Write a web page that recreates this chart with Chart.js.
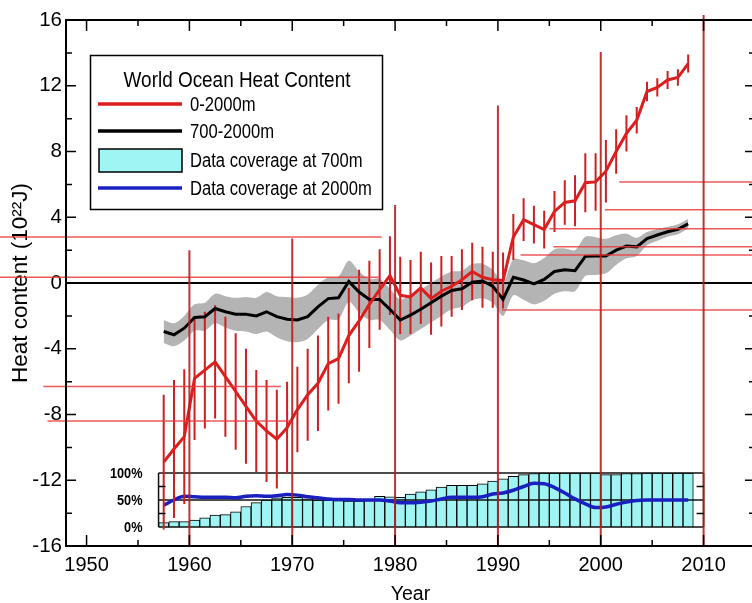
<!DOCTYPE html>
<html lang="en">
<head>
<meta charset="UTF-8" />
<title>World Ocean Heat Content</title>
<script src="https://cdn.jsdelivr.net/npm/chart.js"></script>
<style>
  html, body { margin: 0; padding: 0; background: #fff; overflow: hidden; }
  #wrap { width: 760px; height: 603px; }
</style>
</head>
<body>
<div id="wrap"><canvas id="ohc" width="760" height="603"></canvas></div>
<script>
const FONT = "'Liberation Sans', Arial, sans-serif";

// yearly values, each plotted at mid-year
const years = [1957, 1958, 1959, 1960, 1961, 1962, 1963, 1964, 1965, 1966, 1967, 1968, 1969,
  1970, 1971, 1972, 1973, 1974, 1975, 1976, 1977, 1978, 1979, 1980, 1981, 1982, 1983,
  1984, 1985, 1986, 1987, 1988, 1989, 1990, 1991, 1992, 1993, 1994, 1995, 1996, 1997,
  1998, 1999, 2000, 2001, 2002, 2003, 2004, 2005, 2006, 2007, 2008];

// 0-2000m heat content (10^22 J) and its error bar half-width
const heat0to2000 = [-10.9, -10.1, -9.35, -5.8, -5.3, -4.8, -5.7, -6.6, -7.5, -8.4, -9.0, -9.5, -8.8,
  -7.7, -6.8, -6.1, -4.9, -4.6, -3.2, -2.3, -1.3, -0.4, 0.45, -0.75, -0.85, -0.3, -0.95,
  -0.5, -0.2, 0.2, 0.7, 0.35, 0.2, 0.15, 2.8, 3.85, 3.55, 3.25, 4.35, 4.9, 5.0,
  6.1, 6.15, 6.8, 8.0, 9.1, 9.9, 11.65, 11.9, 12.35, 12.5, 13.35];
const err0to2000 = [4.1, 4.2, 4.1, 3.75, 3.55, 3.45, 3.65, 3.55, 3.5, 3.1, 3.1, 3.0, 2.8,
  2.6, 2.8, 2.9, 2.85, 2.75, 2.9, 3.1, 2.65, 2.45, 2.4, 2.35, 2.25, 2.2, 2.2,
  2.15, 1.85, 1.85, 1.75, 1.85, 1.7, 1.7, 1.4, 1.3, 1.15, 1.15, 1.25, 1.35, 1.55,
  1.8, 1.75, 1.9, 1.35, 1.1, 0.8, 0.6, 0.55, 0.55, 0.5, 0.55];

// 700-2000m heat content and half-width of the grey band
const heat700to2000 = [-2.95, -3.15, -2.75, -2.1, -2.05, -1.55, -1.75, -1.9, -1.9, -2.0, -1.75, -2.05, -2.2,
  -2.25, -2.05, -1.45, -0.95, -0.9, 0.1, -0.55, -1.0, -1.0, -1.6, -2.25, -1.95, -1.6, -1.2,
  -0.8, -0.45, -0.35, 0.05, 0.12, -0.2, -1.0, 0.35, 0.18, -0.05, 0.22, 0.7, 0.8, 0.75,
  1.62, 1.64, 1.64, 2.0, 2.25, 2.2, 2.7, 2.92, 3.12, 3.27, 3.6];
const band700to2000 = [0.7, 0.7, 0.75, 0.8, 0.85, 0.9, 0.95, 1.0, 1.05, 1.1, 1.2, 1.25, 1.35,
  1.35, 1.35, 1.35, 1.3, 1.3, 1.25, 1.25, 1.25, 1.25, 1.25, 1.25, 1.25, 1.2, 1.2,
  1.2, 1.15, 1.1, 1.1, 1.05, 1.0, 1.0, 1.1, 1.2, 1.25, 1.3, 1.35, 1.3, 1.25,
  1.2, 1.15, 1.05, 0.9, 0.75, 0.55, 0.4, 0.35, 0.3, 0.3, 0.3];

// data coverage (%)
const coverage700 = [8, 10, 10, 13, 17, 22, 23, 28, 38, 45, 50, 54, 55,
  55, 52, 50, 50, 49, 48, 48, 49, 57, 56, 55, 61, 65, 69,
  74, 77, 77, 77, 80, 85, 89, 94, 97, 99, 100, 100, 100, 100,
  100, 100, 97, 97, 99, 99, 100, 100, 100, 100, 100];
const coverage2000 = [40, 50, 57, 56, 55, 55, 55, 54, 57, 58, 57, 58, 60,
  59, 56, 54, 52, 51, 51, 50, 50, 50, 48, 45, 45, 46, 48,
  52, 55, 55, 55, 56, 61, 63, 68, 75, 81, 80, 73, 63, 52,
  43, 36, 37, 42, 46, 49, 50, 50, 50, 50, 50];

const xTicks = [1950, 1960, 1970, 1980, 1990, 2000, 2010];
const xMinorTicks = [1955, 1965, 1975, 1985, 1995, 2005];
const yTicks = [-16, -12, -8, -4, 0, 4, 8, 12, 16];
const yMinorTicks = [-14, -10, -6, -2, 2, 6, 10, 14];
const insetTicks = [0, 50, 100];
const insetMinorTicks = [25, 75];
const insetSpan = [1957, 2010];

const legendTitle = 'World Ocean Heat Content';
const legendLabels = ['0-2000m', '700-2000m', 'Data coverage at 700m', 'Data coverage at 2000m'];

// red guide lines drawn over the figure
const guideYears = [1960, 1970, 1980, 1990, 2000, 2010];
const guideTops = [2.0, 2.7, 4.75, 10.8, 14.05, 16.3];
const guideLevels = [2.8, 0.35, -6.3, -8.4, -1.65, 1.7, 2.2, 3.3, 4.45, 6.15];
const guideFrom = [1941, 1941, 1945.8, 1946.2, 1990.4, 1992.2, 1995.4, 1995, 2000.4, 2001.8];
const guideTo = [1978.7, 1978.4, 1968.9, 1970, 2016, 2016, 2016, 2016, 2016, 2016];

const RED = '#dc1e1e';
const BLUE = '#1a20c0';
const CYAN = '#9ff5f3';
const GREY = '#b4b4b4';

const mid = years.map(v => v + 0.5);
const pts = arr => arr.map((v, i) => ({ x: mid[i], y: v }));

const errPts = [];
mid.forEach((x, i) => {
  errPts.push({ x, y: heat0to2000[i] - err0to2000[i] });
  errPts.push({ x, y: heat0to2000[i] + err0to2000[i] });
  errPts.push({ x, y: null });
});
const vGuidePts = [];
guideYears.forEach((x, i) => {
  vGuidePts.push({ x, y: -16 });
  vGuidePts.push({ x, y: guideTops[i] });
  vGuidePts.push({ x, y: null });
});

const line = (data, color, width, extra) => Object.assign({
  type: 'line', data, borderColor: color, borderWidth: width,
  pointRadius: 0, fill: false, tension: 0, spanGaps: false
}, extra || {});

const datasets = [
  { type: 'bar', data: pts(coverage700), yAxisID: 'y2', backgroundColor: CYAN,
    borderColor: '#000', borderWidth: 1, barPercentage: 1, categoryPercentage: 1, grouped: false, order: 12 },
  ...insetTicks.map(v => line([{ x: insetSpan[0], y: v }, { x: insetSpan[1], y: v }], '#111', 1.5, { yAxisID: 'y2', order: 11 })),
  ...insetSpan.map(x => line([{ x, y: 0 }, { x, y: 100 }], '#111', 1.5, { yAxisID: 'y2', order: 11 })),
  line(pts(heat700to2000.map((v, i) => v + band700to2000[i])), GREY, 0, { fill: '+1', backgroundColor: GREY, tension: 0.3, order: 10 }),
  line(pts(heat700to2000.map((v, i) => v - band700to2000[i])), GREY, 0, { tension: 0.3, order: 10 }),
  line([{ x: 1948, y: 0 }, { x: 2015, y: 0 }], '#000', 2, { order: 9 }),
  line(pts(coverage2000), BLUE, 3.5, { yAxisID: 'y2', cubicInterpolationMode: 'monotone', order: 7 }),
  line(errPts, '#cc2020', 2, { order: 6 }),
  line(pts(heat700to2000), '#000', 3, { order: 5 }),
  line(pts(heat0to2000), RED, 3, { order: 4 }),
  line(vGuidePts, 'rgba(185,30,30,0.9)', 2, { clip: false, order: 1 }),
  ...guideLevels.map((v, i) => line([{ x: guideFrom[i], y: v }, { x: guideTo[i], y: v }],
    'rgba(235,60,60,0.85)', 1.5, { clip: false, order: 1 }))
];

// narrow text, like the condensed face of the original
function narrowText(ctx, text, x, y, squeeze) {
  ctx.save();
  ctx.translate(x, y);
  ctx.scale(squeeze, 1);
  ctx.fillText(text, 0, 0);
  ctx.restore();
}

const framePlugin = {
  id: 'frame',
  afterDatasetsDraw(chart) {
    const { ctx, chartArea: a, scales: { x, y, y2 } } = chart;
    ctx.save();
    ctx.strokeStyle = '#000';
    ctx.lineWidth = 2;
    ctx.strokeRect(a.left, a.top, a.right - a.left, a.bottom - a.top);
    ctx.lineWidth = 1.5;
    ctx.beginPath();
    const xt = (v, len) => {
      const px = x.getPixelForValue(v);
      ctx.moveTo(px, a.bottom); ctx.lineTo(px, a.bottom - len);
      ctx.moveTo(px, a.top); ctx.lineTo(px, a.top + len);
    };
    const yt = (v, len) => {
      const py = y.getPixelForValue(v);
      ctx.moveTo(a.left, py); ctx.lineTo(a.left + len, py);
      ctx.moveTo(a.right, py); ctx.lineTo(a.right - len, py);
    };
    xTicks.forEach(v => xt(v, 11));
    xMinorTicks.forEach(v => xt(v, 6));
    yTicks.forEach(v => yt(v, 10));
    yMinorTicks.forEach(v => yt(v, 6));
    const il = x.getPixelForValue(insetSpan[0]), ir = x.getPixelForValue(insetSpan[1]);
    insetMinorTicks.forEach(v => {
      const py = y2.getPixelForValue(v);
      ctx.moveTo(il, py); ctx.lineTo(il + 7, py);
      ctx.moveTo(ir, py); ctx.lineTo(ir - 7, py);
    });
    ctx.stroke();

    ctx.fillStyle = '#000';
    ctx.font = `bold 15px ${FONT}`;
    ctx.textAlign = 'right';
    ctx.textBaseline = 'middle';
    insetTicks.forEach(v => narrowText(ctx, v + '%', il - 16, y2.getPixelForValue(v) + 1, 0.85));
    ctx.restore();
  },
  afterDraw(chart) {
    const { ctx } = chart;
    ctx.save();
    ctx.fillStyle = '#fff';
    ctx.fillRect(90, 55, 292, 154);
    ctx.strokeStyle = '#000';
    ctx.lineWidth = 1.5;
    ctx.strokeRect(90.5, 55.5, 292, 154);
    ctx.fillStyle = '#000';
    ctx.font = `22px ${FONT}`;
    ctx.textAlign = 'center';
    ctx.textBaseline = 'alphabetic';
    narrowText(ctx, legendTitle, 237, 87, 0.86);

    const rows = [104, 131, 160, 188];
    const swatch = [RED, '#000', null, BLUE];
    rows.forEach((ry, i) => {
      if (swatch[i]) {
        ctx.strokeStyle = swatch[i];
        ctx.lineWidth = 3.5;
        ctx.beginPath(); ctx.moveTo(98, ry); ctx.lineTo(182, ry); ctx.stroke();
      } else {
        ctx.fillStyle = CYAN;
        ctx.fillRect(99, ry - 11, 83, 23);
        ctx.strokeStyle = '#000';
        ctx.lineWidth = 1.5;
        ctx.strokeRect(99, ry - 11, 83, 23);
      }
      ctx.fillStyle = '#000';
      ctx.font = `20px ${FONT}`;
      ctx.textAlign = 'left';
      ctx.textBaseline = 'middle';
      narrowText(ctx, legendLabels[i], 190, ry + 1, 0.83);
    });
    ctx.restore();
  }
};

new Chart(document.getElementById('ohc'), {
  data: { datasets },
  options: {
    responsive: false,
    animation: false,
    layout: { padding: { top: 20, right: 5, left: 0, bottom: 0 } },
    plugins: { legend: { display: false }, tooltip: { enabled: false } },
    scales: {
      x: {
        type: 'linear', min: 1948, max: 2015, offset: false,
        afterBuildTicks: s => { s.ticks = xTicks.map(v => ({ value: v })); },
        afterFit: s => { s.height = 57; },
        grid: { drawOnChartArea: false, drawTicks: false, offset: false },
        border: { display: false },
        ticks: { color: '#000', font: { family: FONT, size: 20 }, padding: 7,
          autoSkip: false, maxRotation: 0, callback: v => String(v) },
        title: { display: true, text: 'Year', color: '#000',
          font: { family: FONT, size: 19.5, lineHeight: 0.9 }, padding: { top: 0, bottom: 0 } }
      },
      y: {
        type: 'linear', min: -16, max: 16,
        afterBuildTicks: s => { s.ticks = yTicks.map(v => ({ value: v })); },
        afterFit: s => { s.width = 66; },
        grid: { drawOnChartArea: false, drawTicks: false },
        border: { display: false },
        ticks: { color: '#000', font: { family: FONT, size: 20.5 }, padding: 4, callback: v => String(v) },
        title: { display: true, text: 'Heat content (10²²J)', color: '#000',
          font: { family: FONT, size: 22.5, lineHeight: 1 }, padding: { top: 10, bottom: 0 } }
      },
      y2: { type: 'linear', display: false, min: -35.2, max: 938.9 }
    }
  },
  plugins: [framePlugin]
});
</script>
</body>
</html>
